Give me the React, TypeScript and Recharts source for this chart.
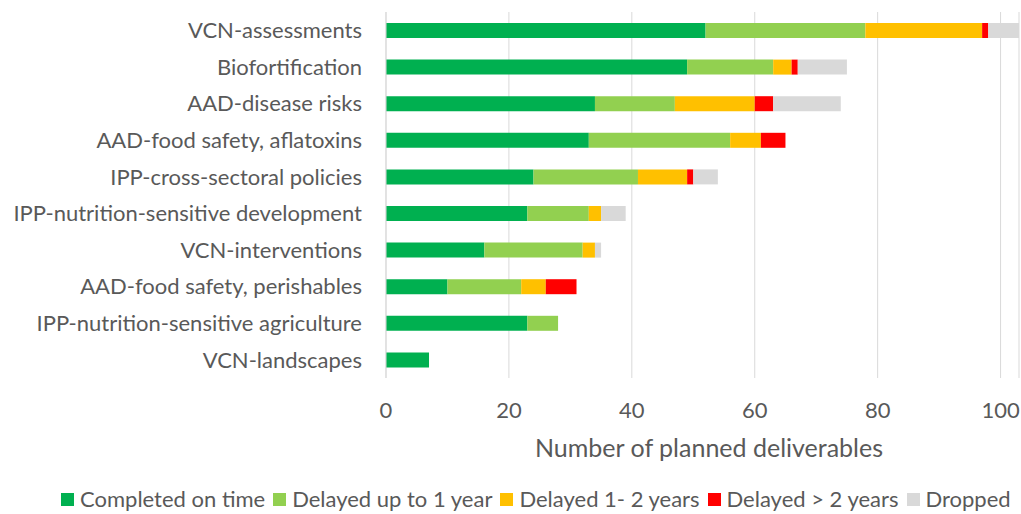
import { Bar, BarChart, CartesianGrid, Label, Legend, XAxis, YAxis } from "recharts";

const categories = [
  "VCN-assessments",
  "Biofortification",
  "AAD-disease risks",
  "AAD-food safety, aflatoxins",
  "IPP-cross-sectoral policies",
  "IPP-nutrition-sensitive development",
  "VCN-interventions",
  "AAD-food safety, perishables",
  "IPP-nutrition-sensitive agriculture",
  "VCN-landscapes",
];

const completedOnTime = [52, 49, 34, 33, 24, 23, 16, 10, 23, 7];
const delayedUpTo1 = [26, 14, 13, 23, 17, 10, 16, 12, 5, 0];
const delayed1to2 = [19, 3, 13, 5, 8, 2, 2, 4, 0, 0];
const delayedOver2 = [1, 1, 3, 4, 1, 0, 0, 5, 0, 0];
const dropped = [5, 8, 11, 0, 4, 4, 1, 0, 0, 0];

const xTicks = [0, 20, 40, 60, 80, 100];

const series = [
  { key: "completed", name: "Completed on time", color: "#00b050", values: completedOnTime },
  { key: "upTo1", name: "Delayed up to 1 year", color: "#92d050", values: delayedUpTo1 },
  { key: "oneTo2", name: "Delayed 1- 2 years", color: "#ffc000", values: delayed1to2 },
  { key: "over2", name: "Delayed > 2 years", color: "#ff0000", values: delayedOver2 },
  { key: "dropped", name: "Dropped", color: "#d9d9d9", values: dropped },
];

const data = categories.map((name, i) => {
  const row: Record<string, string | number> = { name };
  series.forEach((s) => (row[s.key] = s.values[i]));
  return row;
});

const FONT = "Lato, 'Open Sans', sans-serif";
const TEXT = "#595959";

function LegendBox() {
  return (
    <div style={{ display: "flex", alignItems: "center", paddingLeft: 61, fontFamily: FONT, fontSize: 22, color: TEXT, lineHeight: "30px", whiteSpace: "nowrap" }}>
      {series.map((s) => (
        <span key={s.key} style={{ display: "flex", alignItems: "center", marginRight: 8 }}>
          <span style={{ width: 13, height: 13, background: s.color, marginRight: 6, display: "inline-block" }} />
          {s.name}
        </span>
      ))}
    </div>
  );
}

export default function App() {
  return (
    <div style={{ position: "fixed", left: 0, top: 0, background: "#fff" }}>
      <BarChart
        width={1021}
        height={514}
        data={data}
        layout="vertical"
        margin={{ top: 12, right: 2, bottom: 0, left: 0 }}
        barSize={15}
      >
        <CartesianGrid horizontal={false} stroke="#d9d9d9" />
        <XAxis
          type="number"
          domain={[0, 103]}
          ticks={xTicks}
          axisLine={false}
          tickLine={false}
          tickSize={0}
          tickMargin={24}
          height={106}
          tick={{ fill: TEXT, fontSize: 22, fontFamily: FONT }}
        >
          <Label
            content={() => (
              <text x={709} y={457} textAnchor="middle" fill={TEXT} fontSize={25} fontFamily={FONT}>
                Number of planned deliverables
              </text>
            )}
          />
        </XAxis>
        <YAxis
          type="category"
          dataKey="name"
          width={386}
          axisLine={{ stroke: "#d9d9d9" }}
          tickLine={false}
          tickSize={0}
          tickMargin={24}
          interval={0}
          tick={{ fill: TEXT, fontSize: 22, fontFamily: FONT }}
        />
        <Legend verticalAlign="bottom" height={30} content={() => <LegendBox />} />
        {series.map((s) => (
          <Bar key={s.key} dataKey={s.key} name={s.name} stackId="a" fill={s.color} isAnimationActive={false} />
        ))}
      </BarChart>
    </div>
  );
}
